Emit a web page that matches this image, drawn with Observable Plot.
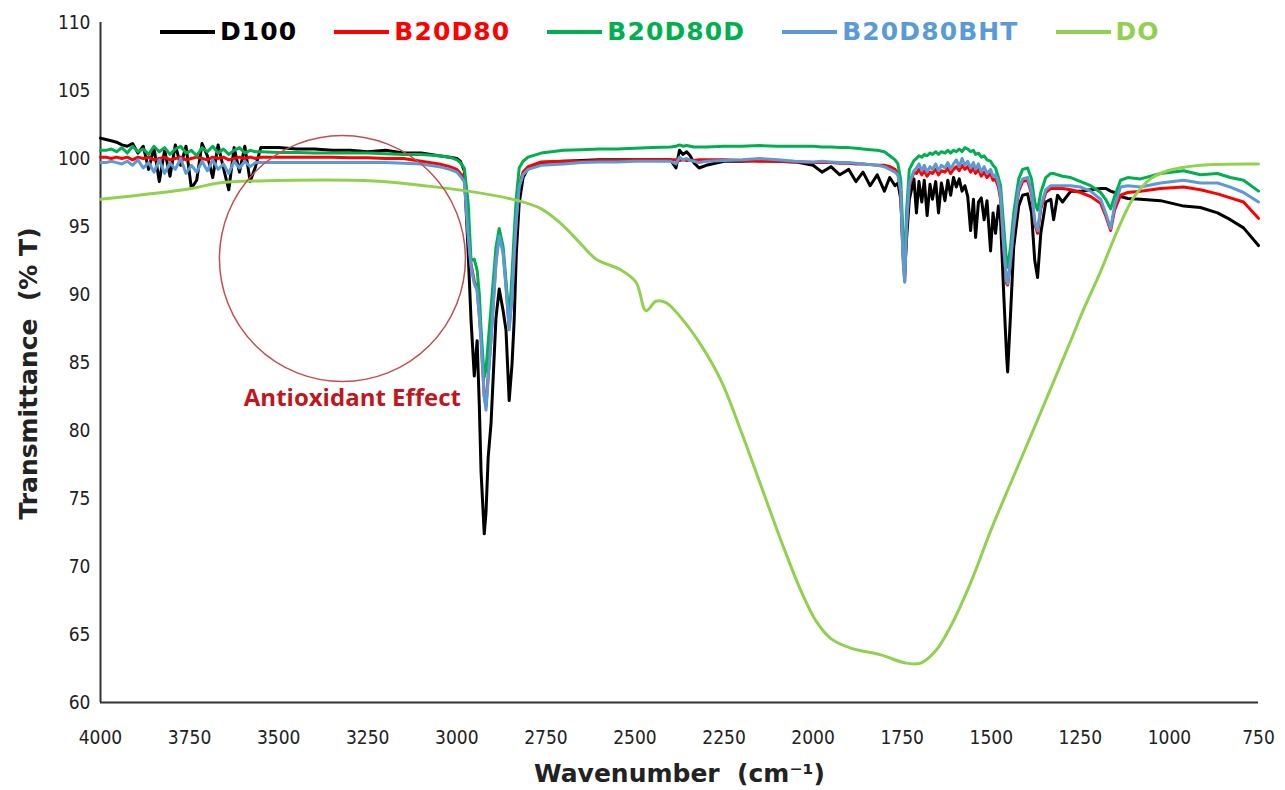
<!DOCTYPE html>
<html>
<head>
<meta charset="utf-8">
<script src="https://cdn.jsdelivr.net/npm/d3@7"></script>
<script src="https://cdn.jsdelivr.net/npm/@observablehq/plot@0.6"></script>
<style>
  html, body { margin: 0; padding: 0; background: #fff; }
  #wrap { position: relative; width: 1285px; height: 790px; }
  #wrap svg { position: absolute; left: 0; top: 0; }
  #legend { position: absolute; top: 17px; left: 160px; display: flex; align-items: center;
            font-family: "DejaVu Sans", Verdana, sans-serif; font-weight: bold; font-size: 25px; letter-spacing: 1.1px; }
  .item { display: flex; align-items: center; margin-right: 37px; }
  .swatch { width: 55px; height: 4px; margin-right: 5px; }
</style>
</head>
<body>
<div id="wrap"><div id="legend"></div></div>
<script>
// ---------- data ----------
const seriesNames = ["D100", "B20D80", "B20D80D", "B20D80BHT", "DO"];
const seriesColors = ["#000000", "#ff0000", "#00b050", "#5b9bd5", "#92d050"];
const xTicks = [4000, 3750, 3500, 3250, 3000, 2750, 2500, 2250, 2000, 1750, 1500, 1250, 1000, 750];
const yTicks = [60, 65, 70, 75, 80, 85, 90, 95, 100, 105, 110];

// shared wavenumber grid for the four blends (cm-1)
const wavenumber = [
  4000,3985,3970,3955,3940,3925,3910,3895,3880,3865,3850,3835,3820,3805,3790,3775,3760,3745,3730,3715,3700,3685,3670,3655,3640,3625,3610,3595,3580,3565,3550,
  3500,3450,3400,3350,3300,3250,3200,3150,3100,3050,3020,3000,2990,
  2979,2968,2960,2951,2943,2937,2932,2923,2918,2912,2904,2890,2881,2870,2862,2853,2845,2839,2833,2825,2814,2800,2763,
  2700,2650,2600,2550,2500,2450,2400,2385,2375,2365,2355,2345,2335,2320,2300,2250,2200,2150,2100,2050,2000,1975,1950,1925,1900,1880,1860,1840,1820,1800,1785,1770,
  1762,1754,1748,1743,1738,1730,1717,
  1710,1703,1695,1688,1680,1672,1665,1656,1648,1640,1630,1622,1614,1606,1598,1590,1582,1574,1566,1558,1550,1544,1536,1528,1520,1512,1502,1495,1488,1480,
  1474,1465,1457,1454,1446,1437,1423,1412,1398,1387,1378,1370,1361,1347,1333,1325,1314,1300,1277,1249,
  1221,1193,1179,1165,1154,1137,1117,1081,1025,960,913,865,829,792,750
];

const tD100 = [
  101.5,101.4,101.3,101.2,101.0,100.9,101.1,100.4,100.9,99.2,100.8,98.3,100.6,98.7,101.0,99.5,100.9,97.8,98.4,101.1,100.2,98.6,101.0,99.3,97.7,100.8,99.0,100.9,98.3,99.4,100.8,
  100.8,100.7,100.7,100.6,100.6,100.5,100.6,100.4,100.4,100.2,100.1,100.0,99.8,
  99.1,93.0,88.1,84.0,86.6,82.0,77.0,72.4,74.0,78.0,80.5,88.3,90.4,88.8,87.4,82.2,84.9,88.1,93.0,96.7,98.6,99.3,99.7,
  99.8,99.85,99.9,99.9,99.9,99.9,99.9,99.3,100.6,100.3,100.5,100.2,99.7,99.3,99.5,99.8,99.8,99.85,99.8,99.75,99.5,99.0,99.4,98.8,99.2,98.3,99.0,98.0,98.8,97.6,98.6,98.0,
  98.2,97.0,93.5,91.5,94.0,97.0,98.5,
  96.0,98.3,96.8,98.4,95.8,98.1,97.0,98.3,96.0,98.2,96.9,98.4,97.3,98.6,97.9,98.5,97.6,98.0,97.2,94.7,97.0,94.2,96.8,97.1,95.5,96.9,93.2,96.0,94.5,96.5,
  95.5,90.0,85.5,84.3,88.5,93.5,96.5,97.3,97.4,96.0,92.5,91.25,94.5,96.8,97.0,95.5,97.3,96.8,97.6,97.6,
  97.7,97.8,97.8,97.6,97.5,97.2,97.06,97.0,96.9,96.5,96.4,96.0,95.5,94.9,93.6
];

const tB20D80 = [
  100.1,100.1,100.0,100.1,100.0,100.1,99.9,100.1,100.0,100.1,99.9,100.0,100.1,99.9,100.0,100.1,99.9,100.0,100.1,100.0,99.9,100.1,100.0,100.1,99.9,100.0,100.1,100.0,100.1,100.0,100.1,
  100.1,100.1,100.1,100.1,100.05,100.05,100.0,100.0,99.8,99.6,99.4,99.2,98.9,
  98.6,94.5,92.2,91.0,90.4,88.5,86.8,82.5,81.8,84.0,86.8,92.5,94.5,93.2,90.7,87.6,90.0,92.5,95.6,98.0,99.0,99.4,99.75,
  99.8,99.8,99.85,99.85,99.9,99.9,99.9,99.9,99.85,99.9,99.85,99.9,99.85,99.9,99.9,99.9,99.85,99.8,99.8,99.75,99.7,99.7,99.7,99.65,99.65,99.6,99.6,99.55,99.5,99.5,99.4,99.2,
  98.9,97.5,93.0,91.0,94.8,98.0,99.0,
  98.9,99.2,98.8,99.1,98.7,99.0,98.9,99.2,98.8,99.1,99.0,99.3,98.9,99.2,99.4,99.1,99.5,99.2,99.4,99.0,99.3,98.9,99.2,98.7,99.0,98.6,98.9,98.4,98.5,97.9,
  97.0,93.3,90.8,90.7,92.3,94.8,97.6,98.3,98.4,97.4,95.2,94.5,96.3,97.5,97.8,97.8,97.8,97.8,97.7,97.5,
  97.2,96.7,95.8,94.7,96.2,97.3,97.5,97.6,97.8,97.9,97.7,97.4,97.1,96.8,95.6
];

const tB20D80D = [
  100.6,100.6,100.7,100.5,100.8,100.4,100.9,100.5,100.7,100.3,100.9,100.5,100.8,100.3,100.7,100.9,100.4,100.6,100.2,100.8,100.5,100.9,100.4,100.7,100.3,100.6,100.8,100.4,100.6,100.5,100.5,
  100.45,100.45,100.4,100.4,100.4,100.4,100.35,100.3,100.3,100.2,100.1,99.9,99.7,
  99.3,96.7,92.5,92.6,91.8,90.1,87.5,83.9,84.5,86.5,89.0,93.5,94.85,93.5,91.0,88.1,91.5,94.5,97.1,99.3,99.8,100.1,100.4,
  100.6,100.65,100.7,100.7,100.75,100.8,100.85,100.9,101.0,100.9,100.95,100.9,100.85,100.85,100.85,100.9,100.9,100.95,100.9,100.9,100.9,100.85,100.85,100.8,100.8,100.75,100.7,100.65,100.6,100.5,100.2,99.9,
  99.6,98.4,94.5,91.4,96.0,99.2,99.85,
  100.0,100.2,100.1,100.3,100.2,100.4,100.3,100.5,100.3,100.5,100.4,100.6,100.4,100.6,100.5,100.7,100.5,100.8,100.7,100.5,100.6,100.3,100.4,100.1,100.2,99.9,99.8,99.5,99.3,98.6,
  98.0,95.0,92.3,92.0,93.5,96.0,98.5,99.2,99.3,98.5,96.8,96.2,97.5,98.6,98.9,98.9,98.8,98.7,98.6,98.3,
  98.0,97.5,97.0,96.3,97.2,98.4,98.6,98.5,98.9,99.1,98.8,98.9,98.6,98.4,97.6
];

const tB20D80BHT = [
  99.7,99.7,99.8,99.7,99.6,99.8,99.5,99.9,99.3,99.7,99.0,99.9,98.9,99.7,99.2,100.0,98.9,99.5,99.0,99.8,99.1,99.9,99.2,99.6,98.9,99.8,99.3,99.8,99.4,99.7,99.7,
  99.7,99.7,99.7,99.7,99.7,99.7,99.7,99.65,99.6,99.4,99.2,99.0,98.7,
  98.3,94.2,92.0,90.8,90.3,88.5,86.6,82.5,81.5,83.8,86.6,92.3,94.3,93.0,90.5,87.4,89.8,93.0,95.4,97.9,98.8,99.2,99.5,
  99.6,99.7,99.75,99.75,99.8,99.8,99.8,99.6,100.1,99.9,100.0,99.85,99.8,99.7,99.8,99.85,99.9,100.0,99.9,99.8,99.75,99.8,99.75,99.7,99.7,99.65,99.6,99.55,99.5,99.4,99.2,99.0,
  98.8,97.6,92.7,90.9,95.0,98.2,99.1,
  99.3,99.6,99.1,99.5,99.0,99.4,99.2,99.6,99.1,99.5,99.3,99.7,99.2,99.6,99.9,99.4,100.0,99.5,99.8,99.3,99.7,99.2,99.6,99.0,99.4,98.9,99.2,98.7,98.8,98.2,
  97.3,93.5,91.0,90.8,92.5,95.0,97.8,98.5,98.6,97.6,95.4,94.7,96.5,97.7,98.0,98.0,98.0,98.0,98.0,97.9,
  97.6,97.0,96.0,94.85,96.5,97.9,98.0,97.9,98.2,98.4,98.2,98.2,97.9,97.5,96.8
];

// diesel oil (DO) spectrum, own grid
const doWavenumber = [4000,3745,3669,3557,3232,3091,2968,2828,2763,2707,2651,2609,2539,2497,2469,2441,2413,2371,2315,2259,2203,2147,2090,2034,1992,1950,1894,1810,1740,1698,1656,1614,1558,1502,1446,1389,1333,1277,1241,1193,1146,1101,1053,1005,913,750];
const tDO = [97.0,97.8,98.2,98.35,98.35,98.0,97.6,96.9,96.3,95.2,93.7,92.6,91.8,90.9,88.8,89.5,89.4,88.3,86.3,83.7,80.0,76.0,71.9,68.2,66.0,64.7,64.0,63.5,62.9,62.9,63.8,65.6,68.8,72.6,76.1,79.6,83.1,86.6,88.9,91.7,94.7,97.1,98.5,99.1,99.5,99.6];

// annotation
const annotationX = [3321];
const annotationY = [92.65];
const annotationLabel = ["Antioxidant Effect"];
const annotationLabelX = [3293];
const annotationLabelY = [82.35];

const xDomain = [4000, 750];
const yDomain = [60, 110];

// ---------- build ----------
const blendValues = [tD100, tB20D80, tB20D80D, tB20D80BHT];
const rows = [];
blendValues.forEach((vals, si) => {
  const n = Math.min(vals.length, wavenumber.length);
  if (vals.length !== wavenumber.length) console.warn(seriesNames[si], vals.length, wavenumber.length);
  for (let i = 0; i < n; i++) rows.push({series: seriesNames[si], wn: wavenumber[i], t: vals[i]});
});
const doRows = doWavenumber.map((w, i) => ({series: "DO", wn: w, t: tDO[i]}));
const ann = annotationX.map((x, i) => ({x, y: annotationY[i], label: annotationLabel[i], lx: annotationLabelX[i], ly: annotationLabelY[i]}));

const tickFont = '"DejaVu Sans Condensed", "DejaVu Sans", sans-serif';
const titleFont = '"DejaVu Sans", Verdana, sans-serif';

const marks = [
  Plot.axisX(xTicks, {tickSize: 0, tickPadding: 28, label: null, tickFormat: d => String(d), fontSize: 19, fontFamily: tickFont, fill: "#222"}),
  Plot.axisY(yTicks, {tickSize: 0, tickPadding: 10, label: null, tickFormat: d => String(d), fontSize: 19, fontFamily: tickFont, fill: "#222"}),
  Plot.ruleX([xDomain[0]], {stroke: "#333", strokeWidth: 2}),
  Plot.ruleY([yDomain[0]], {stroke: "#333", strokeWidth: 2})
];
seriesNames.slice(0, 4).forEach((name, si) => {
  marks.push(Plot.line(rows.filter(d => d.series === name), {x: "wn", y: "t", stroke: seriesColors[si], strokeWidth: 3, strokeLinejoin: "round"}));
});
marks.push(Plot.line(doRows, {x: "wn", y: "t", stroke: seriesColors[4], strokeWidth: 3, curve: "catmull-rom"}));
marks.push(Plot.dot(ann, {x: "x", y: "y", r: 123, fill: "none", stroke: "#c0504d", strokeWidth: 1.5}));
marks.push(Plot.text(ann, {x: "lx", y: "ly", text: "label", fill: "#c0161d", fontWeight: "bold", fontSize: 24, fontFamily: '"Open Sans", "Liberation Sans", sans-serif'}));
marks.push(Plot.text(["Wavenumber  (cm⁻¹)"], {frameAnchor: "bottom", textAnchor: "middle", lineAnchor: "middle", dy: 71, fontWeight: "bold", fontSize: 25, fontFamily: titleFont, fill: "#222"}));
marks.push(Plot.text(["Transmittance  (% T)"], {frameAnchor: "left", textAnchor: "middle", lineAnchor: "middle", rotate: -90, dx: -72, dy: 11, fontWeight: "bold", fontSize: 25, fontFamily: titleFont, fill: "#222"}));

const chart = Plot.plot({
  width: 1285, height: 790,
  marginLeft: 100, marginRight: 27, marginTop: 22, marginBottom: 88,
  x: {domain: xDomain},
  y: {domain: yDomain},
  style: {background: "white", overflow: "visible"},
  marks
});
document.getElementById("wrap").prepend(chart);

// legend
const legend = document.getElementById("legend");
seriesNames.forEach((name, i) => {
  const item = document.createElement("div");
  item.className = "item";
  const sw = document.createElement("span");
  sw.className = "swatch";
  sw.style.background = seriesColors[i];
  const tx = document.createElement("span");
  tx.textContent = name;
  tx.style.color = seriesColors[i];
  item.appendChild(sw); item.appendChild(tx);
  legend.appendChild(item);
});
</script>
</body>
</html>
